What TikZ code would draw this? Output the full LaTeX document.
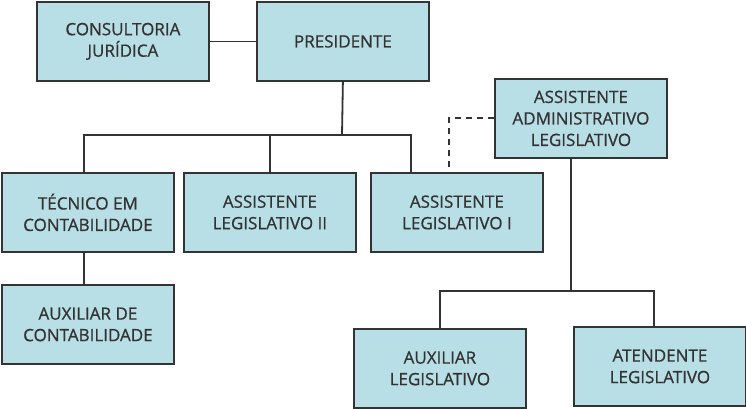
\documentclass[tikz,border=0pt]{standalone}
\usepackage{fontspec}
\setmainfont{Open Sans}[FakeBold=0.8]
\definecolor{boxfill}{HTML}{B8DEE6}
\definecolor{ink}{HTML}{333333}
\begin{document}
\begin{tikzpicture}[x=1pt,y=-1pt,
  box/.style={draw=ink,fill=boxfill,line width=1.8pt,minimum width=172pt,minimum height=79pt,
    inner sep=0pt,align=center,text=ink,font=\fontsize{17}{21.5}\selectfont,anchor=north west},
  conn/.style={draw=ink,line width=1.8pt},
  dconn/.style={conn,dash pattern=on 6pt off 5pt}]
\useasboundingbox (0,0) rectangle (746,408);
\node[box] (cj) at (36,1) {CONSULTORIA\\JURÍDICA};
\node[box] (pres) at (256,1) {PRESIDENTE};
\node[box] (tec) at (1,172) {TÉCNICO EM\\CONTABILIDADE};
\node[box] (al2) at (183,172) {ASSISTENTE\\LEGISLATIVO II};
\node[box] (al1) at (370,172) {ASSISTENTE\\LEGISLATIVO I};
\node[box] (aal) at (494,78) {ASSISTENTE\\ADMINISTRATIVO\\LEGISLATIVO};
\node[box] (acont) at (1,284) {AUXILIAR DE\\CONTABILIDADE};
\node[box] (auxl) at (353,328) {AUXILIAR\\LEGISLATIVO};
\node[box] (atend) at (573,326) {ATENDENTE\\LEGISLATIVO};
\coordinate (bar1) at (342,135);
\coordinate (bar2) at (571,291);
\coordinate (tecin) at (84,172);
\coordinate (al1in) at (411,172);
\coordinate (acontin) at (84,284);
\coordinate (dashin) at (449,172);
\coordinate (aalout) at (571,157);
\coordinate (atendin) at (654,326);
\draw[conn] (cj.east) -- (pres.west);
\draw[conn] (pres.south) -- (bar1);
\draw[conn] (bar1) -| (tecin);
\draw[conn] (bar1) -| (al1in);
\draw[conn] (al2.north) -- (al2.north |- bar1);
\draw[conn] (tec.south -| tecin) -- (acontin);
\draw[dconn] (aal.west |- 0,118) -| (dashin);
\draw[conn] (aalout) -- (bar2);
\draw[conn] (bar2) -| (auxl.north);
\draw[conn] (bar2) -| (atendin);
\end{tikzpicture}
\end{document}
